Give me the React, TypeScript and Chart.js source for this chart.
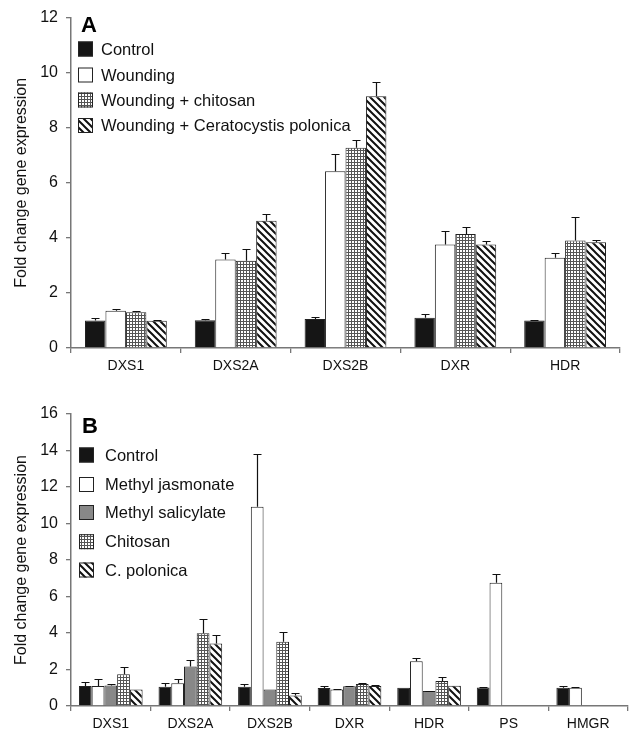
import React, { useEffect, useRef } from "react";
import { Chart, registerables } from "chart.js";

Chart.register(...registerables);

// ---------- Panel A data ----------
const categoriesA = ["DXS1", "DXS2A", "DXS2B", "DXR", "HDR"];
const labelsA = ["Control", "Wounding", "Wounding + chitosan", "Wounding + Ceratocystis polonica"];
const controlA = [1.0, 1.01, 1.05, 1.1, 1.0];
const controlErrA = [0.1, 0.06, 0.06, 0.14, 0.03];
const woundingA = [1.35, 3.21, 6.42, 3.76, 3.28];
const woundingErrA = [0.07, 0.24, 0.62, 0.49, 0.18];
const chitosanA = [1.3, 3.17, 7.27, 4.14, 3.9];
const chitosanErrA = [0.04, 0.43, 0.27, 0.27, 0.86];
const ceratoA = [0.99, 4.62, 9.14, 3.76, 3.84];
const ceratoErrA = [0.03, 0.23, 0.53, 0.11, 0.1];
const ticksA = { min: 0, max: 12, step: 2 };

// ---------- Panel B data ----------
const categoriesB = ["DXS1", "DXS2A", "DXS2B", "DXR", "HDR", "PS", "HMGR"];
const labelsB = ["Control", "Methyl jasmonate", "Methyl salicylate", "Chitosan", "C. polonica"];
const controlB = [1.1, 1.06, 1.06, 0.99, 1.0, 1.02, 1.0];
const controlErrB = [0.21, 0.18, 0.13, 0.12, 0.0, 0.02, 0.11];
const mjB = [1.1, 1.24, 10.92, 0.91, 2.45, 6.76, 1.0];
const mjErrB = [0.38, 0.22, 2.87, 0.04, 0.2, 0.46, 0.03];
const msB = [1.13, 2.17, 0.91, 1.08, 0.82, null, null];
const msErrB = [0.06, 0.35, 0.0, 0.03, 0.02, null, null];
const chitosanB = [1.74, 3.98, 3.52, 1.21, 1.37, null, null];
const chitosanErrB = [0.38, 0.77, 0.52, 0.03, 0.2, null, null];
const cpB = [0.91, 3.43, 0.58, 1.1, 1.11, null, null];
const cpErrB = [0.0, 0.46, 0.15, 0.03, 0.0, null, null];
const ticksB = { min: 0, max: 16, step: 2 };

const FONT = "'Liberation Sans', Arial, Helvetica, sans-serif";

function gridPattern(ctx: CanvasRenderingContext2D) {
  const c = document.createElement("canvas");
  c.width = 3;
  c.height = 3;
  const g = c.getContext("2d")!;
  g.fillStyle = "#ffffff";
  g.fillRect(0, 0, 3, 3);
  g.fillStyle = "#555555";
  g.fillRect(0, 0, 3, 1);
  g.fillRect(0, 0, 1, 3);
  return ctx.createPattern(c, "repeat")!;
}

function stripePattern(ctx: CanvasRenderingContext2D) {
  const n = 7;
  const c = document.createElement("canvas");
  c.width = n;
  c.height = n;
  const g = c.getContext("2d")!;
  g.fillStyle = "#ffffff";
  g.fillRect(0, 0, n, n);
  g.strokeStyle = "#111111";
  g.lineWidth = 2;
  g.beginPath();
  g.moveTo(0, 0);
  g.lineTo(n, n);
  g.moveTo(-1, n - 1);
  g.lineTo(1, n + 1);
  g.moveTo(n - 1, -1);
  g.lineTo(n + 1, 1);
  g.stroke();
  return ctx.createPattern(c, "repeat")!;
}

function errorBarPlugin(errs: (number | null)[][], cap: number) {
  return {
    id: "errorBars",
    afterDatasetsDraw(chart: any) {
      const ctx = chart.ctx;
      const y = chart.scales.y;
      ctx.save();
      ctx.strokeStyle = "#111";
      ctx.lineWidth = 1.2;
      chart.data.datasets.forEach((ds: any, i: number) => {
        const meta = chart.getDatasetMeta(i);
        meta.data.forEach((el: any, j: number) => {
          const v = ds.data[j];
          const e = errs[i][j];
          if (v == null || e == null || e <= 0) return;
          const x = Math.round(el.x) + 0.5;
          const y0 = y.getPixelForValue(v);
          const y1 = Math.round(y.getPixelForValue(v + e)) + 0.5;
          ctx.beginPath();
          ctx.moveTo(x, y0);
          ctx.lineTo(x, y1);
          ctx.moveTo(x - cap, y1);
          ctx.lineTo(x + cap, y1);
          ctx.stroke();
        });
      });
      ctx.restore();
    },
  };
}

function panelLegendPlugin(letter: string, letterBase: number, rows: number[], boxX: number, box: number, textX: number) {
  return {
    id: "panelLegend",
    afterDraw(chart: any) {
      const ctx = chart.ctx;
      ctx.save();
      ctx.fillStyle = "#000";
      ctx.font = `bold 22px ${FONT}`;
      ctx.textBaseline = "alphabetic";
      ctx.textAlign = "left";
      ctx.fillText(letter, boxX + 3, letterBase);
      ctx.font = `16.5px ${FONT}`;
      ctx.textBaseline = "middle";
      chart.data.datasets.forEach((ds: any, i: number) => {
        const cy = rows[i];
        ctx.fillStyle = ds.backgroundColor;
        ctx.fillRect(boxX, cy - box / 2, box, box);
        ctx.strokeStyle = "#222";
        ctx.lineWidth = 1;
        ctx.strokeRect(boxX + 0.5, cy - box / 2 + 0.5, box - 1, box - 1);
        ctx.fillStyle = "#111";
        ctx.fillText(ds.label, textX, cy + 1);
      });
      ctx.restore();
    },
  };
}

function makeOptions(t: { min: number; max: number; step: number }, padTop: number, padRight: number, xHeight: number) {
  return {
    responsive: false,
    animation: false as const,
    layout: { padding: { top: padTop, right: padRight, left: 0, bottom: 0 } },
    plugins: { legend: { display: false }, tooltip: { enabled: false } },
    scales: {
      x: {
        grid: {
          offset: true,
          drawOnChartArea: false,
          drawTicks: true,
          tickLength: 5,
          color: "#777",
          lineWidth: 1.3,
        },
        border: { display: true, color: "#777", width: 1.5 },
        ticks: { color: "#111", font: { family: FONT, size: 14 }, padding: 5, maxRotation: 0, autoSkip: false },
        afterFit(scale: any) {
          scale.height = xHeight;
        },
      },
      y: {
        min: t.min,
        max: t.max,
        grid: { drawOnChartArea: false, drawTicks: true, tickLength: 5, color: "#777", lineWidth: 1.3 },
        border: { display: true, color: "#777", width: 1.5 },
        ticks: { stepSize: t.step, color: "#111", font: { family: FONT, size: 16 }, padding: 8 },
        title: {
          display: true,
          text: "Fold change gene expression",
          color: "#111",
          font: { family: FONT, size: 16 },
          padding: { top: 12, bottom: 0 },
        },
        afterFit(scale: any) {
          scale.width = 71;
        },
      },
    },
  };
}

export default function App() {
  const refA = useRef<HTMLCanvasElement>(null);
  const refB = useRef<HTMLCanvasElement>(null);

  useEffect(() => {
    const ctxA = refA.current!.getContext("2d")!;
    const ctxB = refB.current!.getContext("2d")!;
    const barStyle = { borderColor: "#222", borderWidth: 1 };

    const chartA = new Chart(ctxA, {
      type: "bar",
      data: {
        labels: categoriesA,
        datasets: [
          { label: labelsA[0], data: controlA, backgroundColor: "#151515", ...barStyle },
          { label: labelsA[1], data: woundingA, backgroundColor: "#ffffff", ...barStyle },
          { label: labelsA[2], data: chitosanA, backgroundColor: gridPattern(ctxA) as any, ...barStyle },
          { label: labelsA[3], data: ceratoA, backgroundColor: stripePattern(ctxA) as any, ...barStyle },
        ].map((d) => ({ ...d, categoryPercentage: 0.745, barPercentage: 1 })),
      },
      options: makeOptions(ticksA, 17, 10, 32) as any,
      plugins: [
        errorBarPlugin([controlErrA, woundingErrA, chitosanErrA, ceratoErrA], 4),
        panelLegendPlugin("A", 32, [49, 75, 100, 125.5], 78, 15, 101),
      ],
    });

    const chartB = new Chart(ctxB, {
      type: "bar",
      data: {
        labels: categoriesB,
        datasets: [
          { label: labelsB[0], data: controlB, backgroundColor: "#151515", ...barStyle },
          { label: labelsB[1], data: mjB, backgroundColor: "#ffffff", ...barStyle },
          { label: labelsB[2], data: msB, backgroundColor: "#888888", ...barStyle },
          { label: labelsB[3], data: chitosanB, backgroundColor: gridPattern(ctxB) as any, ...barStyle },
          { label: labelsB[4], data: cpB, backgroundColor: stripePattern(ctxB) as any, ...barStyle },
        ].map((d) => ({ ...d, categoryPercentage: 0.8, barPercentage: 1 })),
      },
      options: makeOptions(ticksB, 34, 2, 29) as any,
      plugins: [
        errorBarPlugin([controlErrB, mjErrB, msErrB, chitosanErrB, cpErrB], 4),
        panelLegendPlugin("B", 53, [75, 104.5, 132.5, 161.7, 190], 79, 15, 105),
      ],
    });

    return () => {
      chartA.destroy();
      chartB.destroy();
    };
  }, []);

  return (
    <div style={{ position: "absolute", left: 0, top: 0, width: 630, height: 735, background: "#fff" }}>
      <canvas ref={refA} width={630} height={380} style={{ display: "block", position: "absolute", left: 0, top: 0 }} />
      <canvas ref={refB} width={630} height={355} style={{ display: "block", position: "absolute", left: 0, top: 380 }} />
    </div>
  );
}
